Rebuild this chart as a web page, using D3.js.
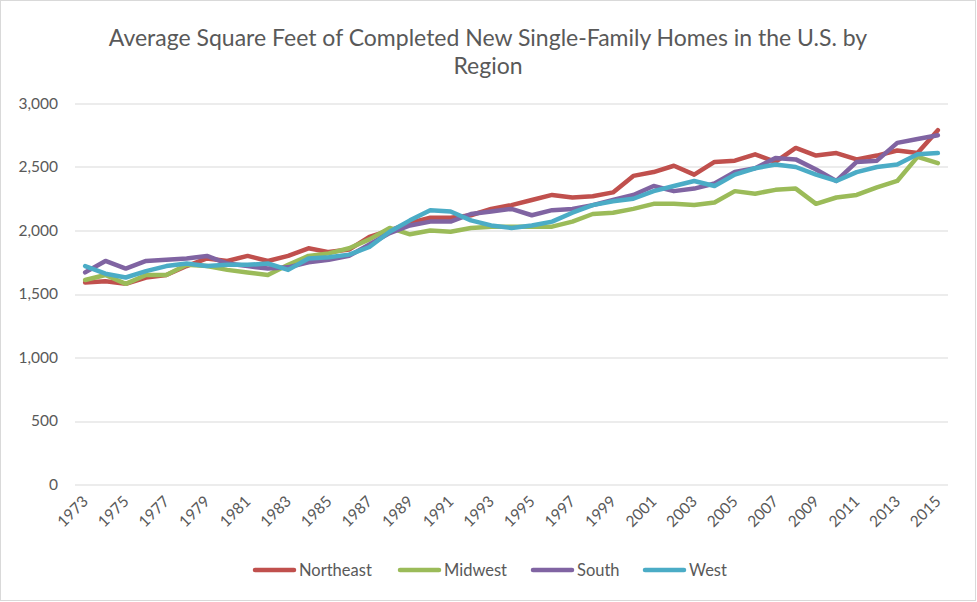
<!DOCTYPE html>
<html>
<head>
<meta charset="utf-8">
<script src="https://cdn.jsdelivr.net/npm/d3@7"></script>
<style>
	body { margin: 0; background: #fff; }
	text { font-family: Lato, 'Open Sans', sans-serif; fill: #595959; }
	.grid line { stroke: #d9d9d9; stroke-width: 1px; }
	.series { fill: none; stroke-width: 4.5px; stroke-linejoin: round; stroke-linecap: round; }
</style>
</head>
<body>
<svg width="977" height="602"></svg>
<script>

// Data
var years = d3.range(1973, 2016);

var northeast = [1590, 1600, 1580, 1630, 1650, 1720, 1780, 1760, 1800, 1760,
	1800, 1860, 1830, 1850, 1950, 2000, 2060, 2100, 2100, 2120,
	2170, 2200, 2240, 2280, 2260, 2270, 2300, 2430, 2460, 2510,
	2440, 2540, 2550, 2600, 2540, 2650, 2590, 2610, 2560, 2590,
	2630, 2610, 2790];

var midwest = [1610, 1650, 1580, 1650, 1650, 1730, 1720, 1690, 1670, 1650,
	1730, 1800, 1820, 1860, 1930, 2020, 1970, 2000, 1990, 2020,
	2030, 2030, 2030, 2030, 2070, 2130, 2140, 2170, 2210, 2210,
	2200, 2220, 2310, 2290, 2320, 2330, 2210, 2260, 2280, 2340,
	2390, 2580, 2530];

var south = [1670, 1760, 1700, 1760, 1770, 1780, 1800, 1740, 1720, 1700,
	1710, 1750, 1770, 1800, 1890, 1980, 2040, 2070, 2070, 2130,
	2150, 2170, 2120, 2160, 2170, 2200, 2240, 2280, 2350, 2310,
	2330, 2370, 2460, 2490, 2570, 2560, 2480, 2390, 2540, 2550,
	2690, 2720, 2750];

var west = [1720, 1660, 1630, 1680, 1720, 1740, 1720, 1730, 1730, 1740,
	1690, 1780, 1790, 1810, 1870, 1990, 2080, 2160, 2150, 2080,
	2040, 2020, 2040, 2070, 2140, 2200, 2230, 2250, 2310, 2350,
	2390, 2350, 2440, 2490, 2520, 2500, 2440, 2390, 2460, 2500,
	2520, 2600, 2610];

var seriesNames = ["Northeast", "Midwest", "South", "West"];
var seriesColors = ["#C0504D", "#9BBB59", "#8064A2", "#4BACC6"];
var yTicks = [0, 500, 1000, 1500, 2000, 2500, 3000];

var series = [northeast, midwest, south, west].map(function(v, i) {
	return { name: seriesNames[i], color: seriesColors[i], values: v };
});

var svg = d3.select("svg");

// outer border
svg.append("rect")
	.attr("x", 0.5).attr("y", 0.5)
	.attr("width", 975).attr("height", 600)
	.attr("fill", "#fff")
	.attr("stroke", "#d9d9d9");

var margin = {top: 103.5, left: 75, right: 29, bottom: 117.5};
var width = 977 - margin.left - margin.right;
var height = 602 - margin.top - margin.bottom;

var g = svg.append("g")
	.attr("transform", "translate(" + margin.left + "," + margin.top + ")");

var x = d3.scaleBand()
	.domain(years)
	.range([0, width]);

var y = d3.scaleLinear()
	.domain([0, 3000])
	.range([height, 0]);

// Gridlines
g.append("g")
	.attr("class", "grid")
	.selectAll("line")
	.data(yTicks)
	.enter().append("line")
		.attr("x1", 0)
		.attr("x2", width)
		.attr("y1", function(d) { return Math.round(y(d)) + 0.5; })
		.attr("y2", function(d) { return Math.round(y(d)) + 0.5; });

// Y axis
var yAxis = g.append("g")
	.call(d3.axisLeft(y).tickValues(yTicks).tickSize(0).tickPadding(17).tickFormat(d3.format(",")));
yAxis.select(".domain").remove();
yAxis.selectAll("text")
	.attr("font-size", 15.5)
	.style("font-family", "Lato, 'Open Sans', sans-serif")
	.attr("fill", "#595959");

// X axis
var xAxis = g.append("g")
	.attr("transform", "translate(0," + height + ")")
	.call(d3.axisBottom(x).tickValues(years.filter(function(d) { return (d - 1973) % 2 === 0; })).tickSize(0));
xAxis.select(".domain").remove();
xAxis.selectAll("text")
	.attr("font-size", 15.5)
	.style("font-family", "Lato, 'Open Sans', sans-serif")
	.attr("fill", "#595959")
	.attr("text-anchor", "end")
	.attr("dy", null)
	.attr("y", 0)
	.attr("transform", "translate(4,18) rotate(-45)");

// Lines
var line = d3.line()
	.x(function(d, i) { return x(years[i]) + x.bandwidth() / 2; })
	.y(function(d) { return y(d); });

g.selectAll(".series")
	.data(series)
	.enter().append("path")
		.attr("class", "series")
		.attr("stroke", function(d) { return d.color; })
		.attr("d", function(d) { return line(d.values); });

// Title
var title = svg.append("text")
	.attr("text-anchor", "middle")
	.attr("font-size", 23);
title.append("tspan").attr("x", 488).attr("y", 46)
	.text("Average Square Feet of Completed New Single-Family Homes in the U.S. by");
title.append("tspan").attr("x", 488).attr("y", 74)
	.text("Region");

// Legend
var legendX = [253, 398, 531, 643];
var legend = svg.append("g");
series.forEach(function(s, i) {
	var lg = legend.append("g").attr("transform", "translate(" + legendX[i] + ",570)");
	lg.append("line")
		.attr("x1", 2).attr("x2", 41)
		.attr("stroke", s.color)
		.attr("stroke-width", 4.5)
		.attr("stroke-linecap", "round");
	lg.append("text")
		.attr("x", 46).attr("y", 6)
		.attr("font-size", 16.5)
		.text(s.name);
});

</script>
</body>
</html>
